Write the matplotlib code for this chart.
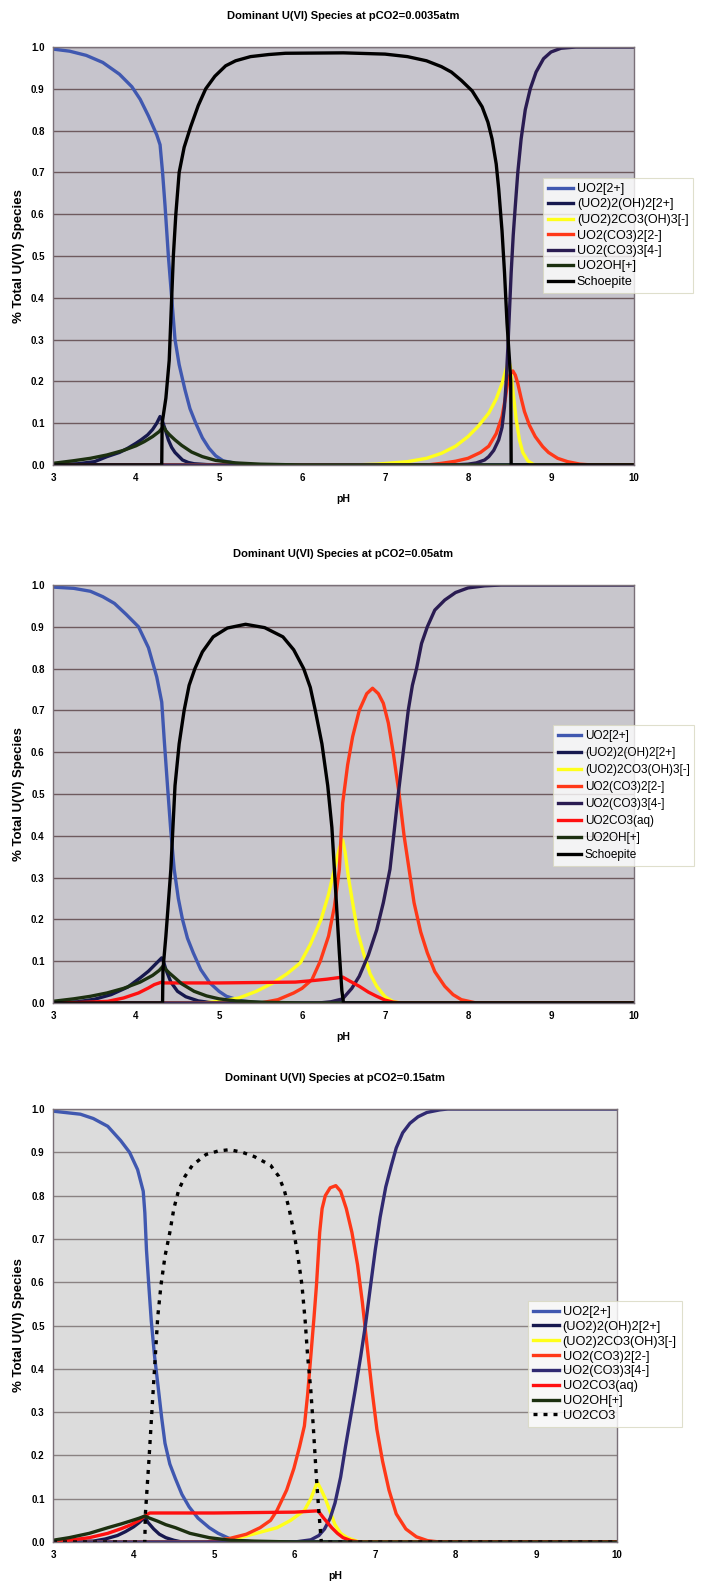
import matplotlib
matplotlib.use("Agg")
import matplotlib.pyplot as plt

plt.rcParams['font.family'] = ['Liberation Sans', 'DejaVu Sans']

# ---------------- panel 1 : pCO2 = 0.0035 atm ----------------
p1_uo2_ph = [3.0, 3.2, 3.4, 3.6, 3.8, 3.95, 4.05, 4.15, 4.25, 4.29, 4.32, 4.35, 4.39, 4.43, 4.47, 4.52,
             4.59, 4.65, 4.72, 4.8, 4.88, 4.96, 5.05, 5.2, 5.4, 10.0]
p1_uo2 = [0.995, 0.99, 0.98, 0.963, 0.935, 0.905, 0.875, 0.835, 0.79, 0.766, 0.70, 0.62, 0.50, 0.40, 0.30, 0.24,
          0.18, 0.135, 0.10, 0.065, 0.04, 0.022, 0.01, 0.004, 0.0, 0.0]
p1_dimer_ph = [3.0, 3.3, 3.5, 3.65, 3.8, 3.9, 4.0, 4.06, 4.14, 4.2, 4.25, 4.29, 4.31, 4.33, 4.36, 4.39,
               4.43, 4.47, 4.52, 4.56, 4.63, 4.7, 4.85, 5.0, 10.0]
p1_dimer = [0.0, 0.003, 0.008, 0.02, 0.03, 0.04, 0.052, 0.06, 0.072, 0.085, 0.1, 0.116, 0.11, 0.098, 0.08, 0.06,
            0.042, 0.03, 0.02, 0.012, 0.006, 0.003, 0.001, 0.0, 0.0]
p1_yel_ph = [3.0, 6.6, 6.9, 7.27, 7.5, 7.68, 7.85, 8.0, 8.12, 8.25, 8.34, 8.41, 8.46, 8.49, 8.51, 8.54,
             8.58, 8.62, 8.66, 8.72, 8.8, 10.0]
p1_yel = [0.0, 0.0, 0.002, 0.008, 0.016, 0.028, 0.045, 0.068, 0.092, 0.124, 0.158, 0.195, 0.23, 0.25, 0.235, 0.18,
          0.11, 0.06, 0.03, 0.01, 0.0, 0.0]
p1_dicarb_ph = [3.0, 7.5, 7.68, 7.85, 8.0, 8.15, 8.25, 8.34, 8.41, 8.45, 8.48, 8.51, 8.54, 8.57, 8.6, 8.64,
                8.68, 8.74, 8.81, 8.9, 8.97, 9.08, 9.2, 9.35, 9.5, 10.0]
p1_dicarb = [0.0, 0.0, 0.004, 0.009, 0.016, 0.03, 0.045, 0.075, 0.116, 0.16, 0.2, 0.218, 0.225, 0.215, 0.195, 0.16,
             0.128, 0.095, 0.068, 0.044, 0.03, 0.016, 0.008, 0.002, 0.0, 0.0]
p1_tricarb_ph = [3.0, 7.8, 8.0, 8.1, 8.2, 8.25, 8.31, 8.37, 8.41, 8.44, 8.46, 8.48, 8.5, 8.52, 8.545, 8.57,
                 8.6, 8.64, 8.69, 8.75, 8.82, 8.91, 9.0, 9.12, 9.3, 10.0]
p1_tricarb = [0.0, 0.0, 0.002, 0.005, 0.012, 0.02, 0.035, 0.06, 0.09, 0.14, 0.2, 0.28, 0.37, 0.46, 0.55, 0.62,
              0.7, 0.78, 0.85, 0.9, 0.94, 0.972, 0.988, 0.997, 1.0, 1.0]
p1_oh_ph = [3.0, 3.24, 3.45, 3.65, 3.85, 4.0, 4.1, 4.2, 4.28, 4.33, 4.36, 4.4, 4.47, 4.55, 4.67, 4.8,
            4.96, 5.2, 5.5, 6.0, 10.0]
p1_oh = [0.004, 0.01, 0.016, 0.024, 0.035, 0.046, 0.056, 0.068, 0.08, 0.092, 0.082, 0.073, 0.06, 0.047, 0.031, 0.02,
         0.011, 0.005, 0.002, 0.0, 0.0]
p1_schoep_ph = [3.0, 4.31, 4.315, 4.36, 4.40, 4.43, 4.45, 4.48, 4.52, 4.58, 4.66, 4.75, 4.84, 4.95, 5.08,
                5.2, 5.38, 5.6, 5.8, 6.5, 7.0, 7.27, 7.5, 7.68, 7.8, 7.92, 8.05, 8.17, 8.24, 8.29,
                8.34, 8.37, 8.41, 8.44, 8.47, 8.5, 8.515, 8.52, 10.0]
p1_schoep = [0.0, 0.0, 0.1, 0.16, 0.25, 0.4, 0.5, 0.6, 0.7, 0.76, 0.81, 0.86, 0.9, 0.93, 0.955,
             0.967, 0.977, 0.982, 0.985, 0.986, 0.983, 0.977, 0.967, 0.953, 0.94, 0.92, 0.895, 0.857, 0.82, 0.78,
             0.72, 0.66, 0.56, 0.46, 0.34, 0.25, 0.2, 0.0, 0.0]

# ---------------- panel 2 : pCO2 = 0.05 atm ----------------
p2_uo2_ph = [3.0, 3.25, 3.45, 3.6, 3.74, 3.88, 4.03, 4.15, 4.25, 4.31, 4.34, 4.38, 4.42, 4.46, 4.51, 4.56,
             4.62, 4.69, 4.78, 4.89, 5.0, 5.09, 5.25, 5.4, 5.6, 10.0]
p2_uo2 = [0.995, 0.992, 0.985, 0.972, 0.956, 0.93, 0.9, 0.85, 0.78, 0.72, 0.63, 0.518, 0.41, 0.32, 0.25, 0.2,
          0.155, 0.12, 0.08, 0.048, 0.028, 0.016, 0.006, 0.002, 0.0, 0.0]
p2_dimer_ph = [3.0, 3.3, 3.5, 3.7, 3.9, 4.05, 4.15, 4.22, 4.31, 4.33, 4.36, 4.42, 4.5, 4.6, 4.75, 4.9, 5.0, 10.0]
p2_dimer = [0.0, 0.003, 0.009, 0.02, 0.038, 0.06, 0.076, 0.09, 0.108, 0.1, 0.08, 0.05, 0.028, 0.015, 0.005, 0.001,
            0.0, 0.0]
p2_yel_ph = [3.0, 4.8, 5.0, 5.24, 5.45, 5.65, 5.82, 5.98, 6.1, 6.23, 6.32, 6.39, 6.45, 6.49, 6.52, 6.56,
             6.61, 6.67, 6.74, 6.82, 6.9, 7.0, 7.1, 7.2, 10.0]
p2_yel = [0.0, 0.0, 0.004, 0.012, 0.028, 0.048, 0.07, 0.096, 0.14, 0.2, 0.26, 0.32, 0.37, 0.39, 0.36, 0.3,
          0.24, 0.17, 0.12, 0.07, 0.04, 0.015, 0.003, 0.0, 0.0]
p2_dicarb_ph = [3.0, 5.5, 5.71, 5.9, 6.0, 6.12, 6.22, 6.32, 6.39, 6.45, 6.49, 6.55, 6.61, 6.69, 6.78, 6.85,
                6.92, 6.98, 7.04, 7.1, 7.17, 7.23, 7.29, 7.35, 7.43, 7.51, 7.6, 7.72, 7.82, 7.92, 8.1, 10.0]
p2_dicarb = [0.0, 0.0, 0.008, 0.024, 0.035, 0.056, 0.1, 0.16, 0.23, 0.32, 0.478, 0.57, 0.637, 0.7, 0.74, 0.753,
             0.74, 0.717, 0.67, 0.598, 0.5, 0.4, 0.32, 0.24, 0.17, 0.12, 0.075, 0.04, 0.02, 0.008, 0.0, 0.0]
p2_tricarb_ph = [3.0, 6.2, 6.35, 6.49, 6.6, 6.69, 6.8, 6.9, 6.98, 7.06, 7.11, 7.16, 7.22, 7.28, 7.33, 7.38,
                 7.44, 7.51, 7.6, 7.72, 7.85, 8.0, 8.2, 8.4, 10.0]
p2_tricarb = [0.0, 0.0, 0.003, 0.01, 0.035, 0.064, 0.115, 0.175, 0.24, 0.32, 0.41, 0.5, 0.6, 0.7, 0.76, 0.8,
              0.86, 0.9, 0.94, 0.964, 0.982, 0.993, 0.998, 1.0, 1.0]
p2_aq_ph = [3.0, 3.3, 3.66, 3.85, 4.03, 4.15, 4.22, 4.31, 4.34, 5.0, 5.92, 6.15, 6.3, 6.49, 6.58, 6.69,
            6.8, 6.9, 7.0, 7.1, 7.2, 10.0]
p2_aq = [0.0, 0.001, 0.004, 0.012, 0.024, 0.036, 0.044, 0.05, 0.048, 0.048, 0.05, 0.054, 0.057, 0.062, 0.052, 0.04,
         0.026, 0.016, 0.007, 0.002, 0.0, 0.0]
p2_oh_ph = [3.0, 3.25, 3.45, 3.65, 3.85, 4.05, 4.2, 4.28, 4.33, 4.36, 4.4, 4.47, 4.55, 4.7, 4.85, 5.0,
            5.2, 5.5, 6.0, 10.0]
p2_oh = [0.004, 0.01, 0.016, 0.024, 0.035, 0.05, 0.066, 0.078, 0.089, 0.08, 0.072, 0.06, 0.046, 0.028, 0.017, 0.01,
         0.005, 0.002, 0.0, 0.0]
p2_schoep_ph = [3.0, 4.32, 4.325, 4.36, 4.42, 4.47, 4.52, 4.58, 4.64, 4.71, 4.8, 4.93, 5.1, 5.32, 5.55,
                5.77, 5.9, 6.02, 6.1, 6.16, 6.24, 6.31, 6.36, 6.39, 6.42, 6.45, 6.48, 6.5, 10.0]
p2_schoep = [0.0, 0.0, 0.08, 0.16, 0.32, 0.52, 0.62, 0.7, 0.76, 0.8, 0.84, 0.876, 0.897, 0.906, 0.898,
             0.876, 0.845, 0.8, 0.755, 0.7, 0.62, 0.52, 0.42, 0.32, 0.22, 0.12, 0.03, 0.0, 0.0]

# ---------------- panel 3 : pCO2 = 0.15 atm ----------------
p3_uo2_ph = [3.0, 3.34, 3.5, 3.68, 3.84, 3.95, 4.05, 4.12, 4.14, 4.16, 4.19, 4.22, 4.26, 4.31, 4.35, 4.39,
             4.45, 4.52, 4.6, 4.69, 4.8, 4.94, 5.05, 5.19, 5.35, 5.5, 10.0]
p3_uo2 = [0.995, 0.988, 0.978, 0.96, 0.927, 0.9, 0.86, 0.81, 0.76, 0.675, 0.59, 0.51, 0.43, 0.35, 0.285, 0.228,
          0.18, 0.146, 0.11, 0.081, 0.055, 0.033, 0.02, 0.008, 0.003, 0.0, 0.0]
p3_dimer_ph = [3.0, 3.5, 3.65, 3.8, 3.9, 4.0, 4.07, 4.14, 4.18, 4.25, 4.32, 4.4, 4.5, 4.6, 10.0]
p3_dimer = [0.0, 0.002, 0.007, 0.015, 0.024, 0.035, 0.045, 0.057, 0.045, 0.03, 0.018, 0.01, 0.004, 0.0, 0.0]
p3_yel_ph = [3.0, 4.9, 5.1, 5.36, 5.6, 5.78, 5.95, 6.12, 6.2, 6.28, 6.33, 6.38, 6.44, 6.5, 6.57, 6.65, 6.8, 10.0]
p3_yel = [0.0, 0.0, 0.005, 0.012, 0.024, 0.033, 0.05, 0.073, 0.1, 0.138, 0.12, 0.1, 0.07, 0.04, 0.02, 0.01, 0.0, 0.0]
p3_dicarb_ph = [3.0, 4.9, 5.19, 5.4, 5.57, 5.7, 5.78, 5.9, 5.99, 6.06, 6.12, 6.16, 6.2, 6.24, 6.27, 6.31,
                6.34, 6.38, 6.44, 6.51, 6.57, 6.64, 6.71, 6.78, 6.84, 6.9, 6.96, 7.02, 7.09, 7.17, 7.26,
                7.38, 7.51, 7.65, 7.8, 10.0]
p3_dicarb = [0.0, 0.0, 0.008, 0.018, 0.033, 0.05, 0.073, 0.12, 0.17, 0.22, 0.268, 0.34, 0.43, 0.52, 0.593, 0.715,
             0.77, 0.8, 0.818, 0.823, 0.81, 0.77, 0.715, 0.64, 0.553, 0.45, 0.35, 0.26, 0.187, 0.12, 0.065,
             0.03, 0.012, 0.003, 0.0, 0.0]
p3_tricarb_ph = [3.0, 6.0, 6.2, 6.3, 6.37, 6.44, 6.5, 6.57, 6.63, 6.69, 6.75, 6.82, 6.88, 6.94, 7.0, 7.06,
                 7.13, 7.2, 7.26, 7.34, 7.43, 7.53, 7.64, 7.8, 7.9, 10.0]
p3_tricarb = [0.0, 0.0, 0.005, 0.015, 0.03, 0.055, 0.09, 0.15, 0.22, 0.285, 0.35, 0.43, 0.504, 0.59, 0.675, 0.75,
              0.82, 0.87, 0.91, 0.945, 0.967, 0.982, 0.992, 0.998, 1.0, 1.0]
p3_aq_ph = [3.0, 3.2, 3.45, 3.68, 3.85, 3.97, 4.07, 4.14, 4.2, 5.0, 6.0, 6.29, 6.36, 6.46, 6.53, 6.6, 6.7, 6.8, 10.0]
p3_aq = [0.001, 0.004, 0.01, 0.02, 0.031, 0.04, 0.05, 0.06, 0.067, 0.067, 0.069, 0.072, 0.055, 0.033, 0.02, 0.01,
         0.003, 0.0, 0.0]
p3_oh_ph = [3.0, 3.2, 3.45, 3.68, 3.85, 3.97, 4.07, 4.14, 4.2, 4.3, 4.4, 4.52, 4.7, 4.94, 5.2, 5.5, 6.0, 10.0]
p3_oh = [0.004, 0.01, 0.02, 0.033, 0.042, 0.049, 0.055, 0.06, 0.055, 0.048, 0.04, 0.033, 0.02, 0.01, 0.004, 0.002,
         0.0, 0.0]
p3_solid_ph = [3.0, 4.14, 4.145, 4.19, 4.23, 4.27, 4.3, 4.34, 4.39, 4.45, 4.5, 4.56, 4.64, 4.73, 4.9, 5.05,
               5.19, 5.35, 5.5, 5.7, 5.8, 5.87, 5.93, 5.99, 6.04, 6.09, 6.13, 6.16, 6.2, 6.23, 6.27,
               6.3, 6.33, 10.0]
p3_solid = [0.0, 0.0, 0.06, 0.187, 0.31, 0.43, 0.52, 0.593, 0.66, 0.715, 0.77, 0.813, 0.845, 0.87, 0.895, 0.903,
            0.906, 0.9, 0.89, 0.87, 0.845, 0.813, 0.77, 0.715, 0.66, 0.593, 0.51, 0.43, 0.35, 0.268, 0.146,
            0.07, 0.0, 0.0]

titles = ["Dominant U(VI) Species at pCO2=0.0035atm",
          "Dominant U(VI) Species at pCO2=0.05atm",
          "Dominant U(VI) Species at pCO2=0.15atm"]
ph_ticks = [3, 4, 5, 6, 7, 8, 9, 10]

C_UO2 = '#4058b0'
C_DIMER = '#16184e'
C_YEL = '#ffff1a'
C_DICARB = '#ff3818'
C_TRICARB = '#2a1c52'
C_AQ = '#ff1010'
C_OH = '#1c3010'
C_SOLID = '#000000'

fig = plt.figure(figsize=(7.05, 15.87), dpi=100)

# axes boxes in pixels: left, top, right, bottom
px_boxes = [(53, 47, 634, 465), (53, 585, 634, 1003), (53, 1109, 617, 1542)]
bgs = ['#c6c4cc', '#c8c6cc', '#dcdcdc']
grid_cols = ['#6e5a5e', '#6e5a5e', '#8a8282']
legend_pos = [(543, 178), (553, 725), (528, 1301)]
legend_fs = [9.0, 8.5, 9.2]
legend_space = [0.28, 0.43, 0.22]

panels = [
    [(p1_uo2_ph, p1_uo2, C_UO2, '-', 'UO2[2+]'),
     (p1_dimer_ph, p1_dimer, C_DIMER, '-', '(UO2)2(OH)2[2+]'),
     (p1_yel_ph, p1_yel, C_YEL, '-', '(UO2)2CO3(OH)3[-]'),
     (p1_dicarb_ph, p1_dicarb, C_DICARB, '-', 'UO2(CO3)2[2-]'),
     (p1_tricarb_ph, p1_tricarb, C_TRICARB, '-', 'UO2(CO3)3[4-]'),
     (p1_oh_ph, p1_oh, C_OH, '-', 'UO2OH[+]'),
     (p1_schoep_ph, p1_schoep, C_SOLID, '-', 'Schoepite')],
    [(p2_uo2_ph, p2_uo2, C_UO2, '-', 'UO2[2+]'),
     (p2_dimer_ph, p2_dimer, C_DIMER, '-', '(UO2)2(OH)2[2+]'),
     (p2_yel_ph, p2_yel, C_YEL, '-', '(UO2)2CO3(OH)3[-]'),
     (p2_dicarb_ph, p2_dicarb, C_DICARB, '-', 'UO2(CO3)2[2-]'),
     (p2_tricarb_ph, p2_tricarb, C_TRICARB, '-', 'UO2(CO3)3[4-]'),
     (p2_aq_ph, p2_aq, C_AQ, '-', 'UO2CO3(aq)'),
     (p2_oh_ph, p2_oh, C_OH, '-', 'UO2OH[+]'),
     (p2_schoep_ph, p2_schoep, C_SOLID, '-', 'Schoepite')],
    [(p3_uo2_ph, p3_uo2, C_UO2, '-', 'UO2[2+]'),
     (p3_dimer_ph, p3_dimer, C_DIMER, '-', '(UO2)2(OH)2[2+]'),
     (p3_yel_ph, p3_yel, C_YEL, '-', '(UO2)2CO3(OH)3[-]'),
     (p3_dicarb_ph, p3_dicarb, C_DICARB, '-', 'UO2(CO3)2[2-]'),
     (p3_tricarb_ph, p3_tricarb, '#302a72', '-', 'UO2(CO3)3[4-]'),
     (p3_aq_ph, p3_aq, C_AQ, '-', 'UO2CO3(aq)'),
     (p3_oh_ph, p3_oh, C_OH, '-', 'UO2OH[+]'),
     (p3_solid_ph, p3_solid, C_SOLID, (0, (1.2, 1.8)), 'UO2CO3')],
]

W, H = 705.0, 1587.0
for i, series in enumerate(panels):
    l, t, r, b = px_boxes[i]
    ax = fig.add_axes([l / W, 1 - b / H, (r - l) / W, (b - t) / H])
    ax.set_facecolor(bgs[i])
    for ph, val, col, ls, lab in series:
        ax.plot(ph, val, color=col, linestyle=ls, lw=2.4, label=lab)
    ax.set_xlim(3, 10)
    ax.set_ylim(0, 1.0)
    ax.set_xticks(ph_ticks)
    ax.set_yticks([k / 10 for k in range(11)])
    ax.set_yticklabels(['%.1f' % (k / 10) for k in range(11)])
    ax.yaxis.grid(True, color=grid_cols[i], lw=1.0)
    ax.set_axisbelow(True)
    ax.tick_params(length=0, labelsize=7, pad=6)
    for lbl in ax.get_xticklabels() + ax.get_yticklabels():
        lbl.set_fontweight('bold')
    for s in ax.spines.values():
        s.set_color('#7a7078')
        s.set_linewidth(1.0)
    ax.set_xlabel('pH', fontsize=7.5, fontweight='bold', labelpad=8)
    ax.set_ylabel('% Total U(VI) Species', fontsize=9.5, fontweight='bold')
    ax.yaxis.set_label_coords(-(l - 25) / (r - l), 0.5)
    ax.set_title(titles[i], fontsize=8, fontweight='bold', pad=20)
    lx, ly = legend_pos[i]
    leg = fig.legend(handles=ax.get_lines(), loc='upper left', bbox_to_anchor=(lx / W, 1 - ly / H),
                     fontsize=legend_fs[i], frameon=True, fancybox=False, handlelength=2.0,
                     handletextpad=0.3, labelspacing=legend_space[i], borderpad=0.4,
                     borderaxespad=0)
    leg.get_frame().set_edgecolor('#d8d8c0')
    leg.get_frame().set_linewidth(0.8)

fig.savefig('out.png', dpi=100)
